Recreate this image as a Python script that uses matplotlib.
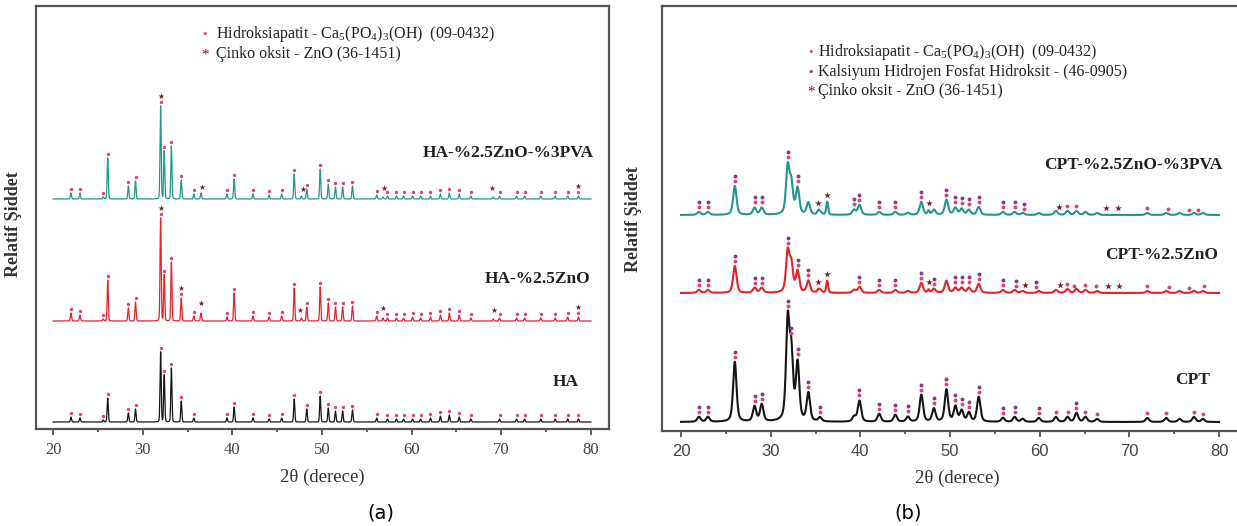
import numpy as np
import matplotlib
matplotlib.use('Agg')
import matplotlib.pyplot as plt

plt.rcParams['mathtext.fontset'] = 'custom'
plt.rcParams['mathtext.rm'] = 'Liberation Serif'
plt.rcParams['mathtext.it'] = 'Liberation Serif:italic'
plt.rcParams['mathtext.bf'] = 'Liberation Serif:bold'

W, H, DPI = 1237, 526, 100

# ---------------- panel (a) data ----------------
a_pos = [22.0, 23.0, 25.6, 26.1, 28.4, 29.2, 32.0, 32.4, 33.2, 34.3, 35.7, 39.4, 40.2,
         42.3, 44.1, 45.5, 46.9, 48.3, 49.8, 50.7, 51.5, 52.3, 53.4, 56.1, 57.3, 58.3,
         59.1, 60.1, 61.0, 62.1, 63.2, 64.2, 65.3, 66.6, 69.8, 71.7, 72.6, 74.4, 76.0,
         77.4, 78.6]
a_ha = [5, 4, 2, 24, 9, 13, 70, 47, 54, 21, 4, 4, 15,
        4, 3, 4, 23, 13, 26, 14, 11, 11, 12, 4, 3, 3,
        3, 3, 3, 4, 6, 7, 5, 3, 3, 3, 3, 3, 3, 3, 3]
a_znoha = [8, 6, 2, 41, 13, 19, 103, 46, 59, 23, 5, 4, 28,
           5, 4, 5, 33, 14, 34, 18, 14, 14, 15, 5, 3, 3,
           3, 4, 3, 4, 6, 8, 6, 3, 3, 3, 3, 3, 3, 4, 4]
a_pva = [6, 6, 2, 41, 13, 18, 93, 48, 53, 19, 5, 5, 20,
         5, 4, 5, 25, 10, 30, 15, 12, 12, 13, 4, 3, 3,
         3, 3, 3, 3, 5, 6, 5, 3, 3, 3, 3, 3, 3, 3, 3]
a_zno_pos = [36.5, 47.7, 56.8, 69.1]
a_zno_znoha = [8, 3, 3, 2]
a_zno_pva = [6, 3, 2, 2]
# marker positions (a)
a_star_znoha = [32.0, 34.3, 36.5, 47.6, 56.8, 69.2, 78.6]
a_star_pva = [32.0, 36.6, 47.9, 56.9, 69.0, 78.6]

# ---------------- panel (b) data ----------------
b_pos = [22.0, 23.0, 26.0, 28.2, 29.0, 31.9, 32.3, 33.0, 34.2, 35.5, 39.3, 39.9, 42.1,
         43.9, 45.3, 46.8, 48.2, 49.6, 50.6, 51.3, 52.1, 53.2, 55.9, 57.2, 58.1, 59.9,
         61.8, 63.1, 64.1, 65.1, 66.4, 72.0, 74.1, 75.6, 77.2, 78.2]
b_cpt = [5, 5, 60, 15, 17, 98, 64, 57, 28, 4, 5, 21, 8,
         7, 5, 27, 13, 32, 15, 11, 9, 25, 4, 5, 3, 4,
         5, 5, 9, 5, 3, 4, 4, 3, 5, 3]
b_zno = [3, 3, 27, 5, 5, 40, 27, 21, 12, 3, 3, 6, 3,
         3, 2, 10, 4, 12, 5, 5, 5, 9, 3, 3, 2, 2,
         3, 4, 4, 3, 2, 2, 2, 2, 2, 2]
b_pva = [3, 3, 29, 7, 7, 47, 29, 26, 12, 3, 5, 10, 3,
         3, 2, 13, 5, 15, 7, 6, 5, 8, 3, 3, 2, 2,
         4, 4, 4, 3, 2, 2, 2, 2, 2, 2]
b_zno_pos = [35.3, 36.3, 47.6]
b_zno_zno = [2, 12, 3]
b_zno_pva = [3, 13, 4]
# marker positions (b)
b_dbl_cpt = [22.0, 23.0, 26.0, 28.2, 29.0, 31.9, 32.3, 33.0, 34.2, 35.5, 39.9, 42.1, 43.9,
             45.3, 46.8, 48.2, 49.6, 50.6, 51.3, 52.1, 53.2, 55.9, 57.2, 59.9, 64.1]
b_sgl_cpt = [61.8, 63.1, 65.1, 66.4, 72.0, 74.1, 77.2, 78.2]
b_dbl_zno = [22.0, 23.0, 26.0, 28.2, 29.0, 31.9, 33.0, 34.2, 39.9, 42.1, 43.9, 46.8, 48.2,
             50.6, 51.3, 52.1, 53.2, 55.9, 57.4, 59.6]
b_sgl_zno = [63.0, 63.8, 65.0, 66.3, 72.0, 74.4, 76.7, 78.3]
b_star_zno = [35.3, 36.3, 47.6, 58.4, 62.3, 67.6, 68.8]
b_dbl_pva = [22.0, 23.0, 26.0, 28.2, 29.0, 31.9, 33.0, 39.3, 39.9, 42.1, 43.9, 46.8, 49.6,
             50.6, 51.3, 52.1, 53.2, 55.9, 57.2, 58.3]
b_sgl_pva = [63.0, 64.1, 72.0, 74.3, 76.6, 77.7]
b_star_pva = [35.3, 36.3, 47.6, 62.2, 67.4, 68.7]

labels_a = ['HA-%2.5ZnO-%3PVA', 'HA-%2.5ZnO', 'HA']
labels_b = ['CPT-%2.5ZnO-%3PVA', 'CPT-%2.5ZnO', 'CPT']
xticks = [20, 30, 40, 50, 60, 70, 80]

TEAL, RED, BLACK = '#25968c', '#e1242b', '#151515'
PINK, PURPLE, STAR = '#d9457f', '#8a3a86', '#7d1f2a'
SERIF = 'Liberation Serif'

x = np.linspace(20, 80, 12001)


def profile(pos, hts, fwhm, eta):
    y = np.zeros_like(x)
    for p, h in zip(pos, hts):
        d = (x - p) / fwhm
        g = np.exp(-4 * np.log(2) * d ** 2)
        l = 1.0 / (1 + 4 * d ** 2)
        y += h * (eta * l + (1 - eta) * g)
    return y


fig = plt.figure(figsize=(W / DPI, H / DPI), dpi=DPI)


def add_axes_px(l, t, r, b):
    return fig.add_axes([l / W, 1 - b / H, (r - l) / W, (b - t) / H])


def ftext(px, py, s, **kw):
    fig.text(px / W, 1 - py / H, s, **kw)


def style_axes(ax, xl, ylim, tickfont, tsize):
    ax.set_xlim(*xl)
    ax.set_ylim(*ylim)
    ax.set_yticks([])
    ax.set_xticks(xticks)
    ax.set_xticks([25, 35, 45, 55, 65, 75], minor=True)
    ax.tick_params(axis='x', which='major', direction='out', length=4.5, width=1.1,
                   color='#333333', pad=5, labelsize=tsize, labelcolor='#444444')
    ax.tick_params(axis='x', which='minor', direction='out', length=2.5, width=1.1,
                   color='#333333')
    for lab in ax.get_xticklabels():
        lab.set_family(tickfont)
    for sp in ax.spines.values():
        sp.set_color('#555555')
        sp.set_linewidth(1.6)


# ---------------- panel (a) ----------------
axA = add_axes_px(36, 6, 609, 429)
style_axes(axA, (18.10, 82.01), (0, 423), SERIF, 12)
curvesA = [
    (a_pva, a_zno_pva, 230, TEAL, a_star_pva),
    (a_znoha, a_zno_znoha, 108, RED, a_star_znoha),
    (a_ha, [0, 0, 0, 0], 7, BLACK, []),
]
for ha, zn, off, col, stars in curvesA:
    y = profile(a_pos, ha, 0.15, 0.1) + profile(a_zno_pos, zn, 0.15, 0.1) + off
    axA.plot(x, y, color=col, lw=0.9, zorder=2)
    ym = np.interp(a_pos, x, y)
    axA.scatter(a_pos, ym + 4, s=6, color=PINK, linewidths=0, zorder=3)
    if stars:
        ys = np.interp(stars, x, y)
        axA.scatter(stars, ys + 10, s=20, marker='*', color=STAR, linewidths=0, zorder=3)

for txt, xr, yc in zip(labels_a, [594, 590, 579], [153, 279, 382]):
    ftext(xr, yc, txt, ha='right', va='center', family=SERIF, weight='bold',
          fontsize=12.5, color='#222222')

# legend (a)
ftext(205, 34, '•', ha='center', va='center', color=PINK, fontsize=8, family='DejaVu Sans')
ftext(216, 34, r'Hidroksiapatit - Ca$_5$(PO$_4$)$_3$(OH)  (09-0432)', ha='left', va='center',
      family=SERIF, fontsize=11.5, color='#222222')
ftext(205, 55, '*', ha='center', va='center', color=STAR, fontsize=11, family=SERIF)
ftext(216, 54, 'Çinko oksit - ZnO (36-1451)', ha='left', va='center',
      family=SERIF, fontsize=11.5, color='#222222')

ftext(322, 477, '2θ (derece)', ha='center', va='center', family=SERIF, fontsize=13.5, color='#333333')
ftext(14, 224, 'Relatif Şiddet', ha='center', va='center', rotation=90, family=SERIF,
      weight='bold', fontsize=13, color='#333333')
ftext(381, 513, '(a)', ha='center', va='center', family='DejaVu Sans', fontsize=14)

# ---------------- panel (b) ----------------
axB = add_axes_px(662, 6, 1250, 431)
style_axes(axB, (17.88, 83.45), (0, 425), 'Liberation Sans', 12)
curvesB = [
    (b_pva, b_zno_pva, 216, TEAL, b_dbl_pva, b_sgl_pva, b_star_pva),
    (b_zno, b_zno_zno, 138, RED, b_dbl_zno, b_sgl_zno, b_star_zno),
    (b_cpt, [0, 0, 0], 9, BLACK, b_dbl_cpt, b_sgl_cpt, []),
]
for ha, zn, off, col, dbl, sgl, stars in curvesB:
    y = profile(b_pos, ha, 0.45, 0.5) + profile(b_zno_pos, zn, 0.25, 0.3) + off
    axB.plot(x, y, color=col, lw=1.5, zorder=2)
    yd = np.interp(dbl, x, y)
    axB.scatter(dbl, yd + 5, s=8, color=PINK, linewidths=0, zorder=3)
    axB.scatter(dbl, yd + 10, s=8, color=PURPLE, linewidths=0, zorder=3)
    ysg = np.interp(sgl, x, y)
    axB.scatter(sgl, ysg + 5, s=8, color=PINK, linewidths=0, zorder=3)
    if stars:
        ys = np.interp(stars, x, y)
        axB.scatter(stars, ys + 7, s=26, marker='*', color=STAR, linewidths=0, zorder=3)

for txt, xr, yc in zip(labels_b, [1222, 1218, 1210], [165, 255, 380]):
    ftext(xr, yc, txt, ha='right', va='center', family=SERIF, weight='bold',
          fontsize=12.5, color='#222222')

# legend (b)
ftext(811, 52, '•', ha='center', va='center', color=PINK, fontsize=8, family='DejaVu Sans')
ftext(818, 52, r'Hidroksiapatit - Ca$_5$(PO$_4$)$_3$(OH)  (09-0432)', ha='left', va='center',
      family=SERIF, fontsize=11.5, color='#222222')
ftext(811, 72, '•', ha='center', va='center', color=PURPLE, fontsize=8, family='DejaVu Sans')
ftext(818, 72, 'Kalsiyum Hidrojen Fosfat Hidroksit - (46-0905)', ha='left', va='center',
      family=SERIF, fontsize=11.5, color='#222222')
ftext(811, 92, '*', ha='center', va='center', color=STAR, fontsize=11, family=SERIF)
ftext(818, 91, 'Çinko oksit - ZnO (36-1451)', ha='left', va='center',
      family=SERIF, fontsize=11.5, color='#222222')

ftext(957, 478, '2θ (derece)', ha='center', va='center', family=SERIF, fontsize=13.5, color='#333333')
ftext(634, 219, 'Relatif Şiddet', ha='center', va='center', rotation=90, family=SERIF,
      weight='bold', fontsize=13, color='#333333')
ftext(908, 513, '(b)', ha='center', va='center', family='DejaVu Sans', fontsize=14)

fig.savefig('out.png', dpi=DPI)
